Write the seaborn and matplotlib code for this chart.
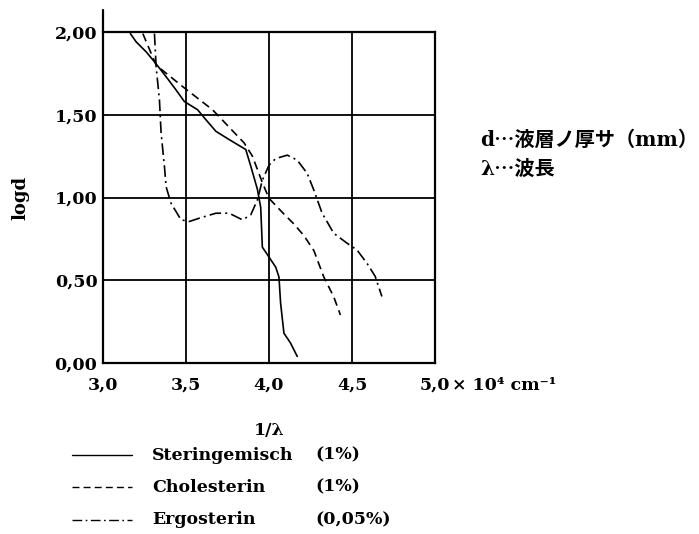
import numpy as np
import pandas as pd
import matplotlib
matplotlib.use("Agg")
import matplotlib.pyplot as plt
import seaborn as sns
from matplotlib.lines import Line2D

# ---- data ----
ster_x = [3.165, 3.20, 3.26, 3.31, 3.38, 3.44, 3.49, 3.57, 3.62, 3.68, 3.76, 3.86,
          3.89, 3.93, 3.95, 3.96, 4.00, 4.04, 4.06, 4.07, 4.09, 4.13, 4.17]
ster_y = [1.99, 1.94, 1.88, 1.82, 1.73, 1.65, 1.58, 1.53, 1.47, 1.40, 1.35, 1.29,
          1.19, 1.05, 0.94, 0.70, 0.64, 0.58, 0.52, 0.36, 0.18, 0.12, 0.04]

chol_x = [3.24, 3.32, 3.48, 3.66, 3.85, 3.90, 3.96, 4.00, 4.09, 4.15, 4.21, 4.27,
          4.33, 4.39, 4.43]
chol_y = [1.99, 1.80, 1.67, 1.53, 1.33, 1.25, 1.09, 0.995, 0.90, 0.84, 0.77, 0.68,
          0.52, 0.40, 0.29]

ergo_x = [3.31, 3.32, 3.34, 3.35, 3.37, 3.38, 3.41, 3.47, 3.52, 3.58, 3.68, 3.76,
          3.84, 3.89, 3.93, 3.96, 4.00, 4.04, 4.11, 4.17, 4.23, 4.27, 4.32, 4.39,
          4.47, 4.53, 4.59, 4.64, 4.66, 4.68]
ergo_y = [1.99, 1.79, 1.59, 1.39, 1.19, 1.065, 0.965, 0.865, 0.855, 0.875, 0.905, 0.905,
          0.865, 0.895, 0.985, 1.105, 1.195, 1.235, 1.256, 1.226, 1.146, 1.045, 0.905, 0.784,
          0.724, 0.683, 0.603, 0.523, 0.462, 0.402]

series_names = ["Steringemisch", "Cholesterin", "Ergosterin"]
series_conc = ["(1%)", "(1%)", "(0,05%)"]
x_ticks = [3.0, 3.5, 4.0, 4.5, 5.0]
x_ticklabels = ["3,0", "3,5", "4,0", "4,5", "5,0"]
y_ticks = [0.0, 0.5, 1.0, 1.5, 2.0]
y_ticklabels = ["0,00", "0,50", "1,00", "1,50", "2,00"]
dash_map = {"Steringemisch": "", "Cholesterin": (5, 3), "Ergosterin": (7, 2.5, 1.2, 2.5)}

df = pd.concat([
    pd.DataFrame({"x": ster_x, "y": ster_y, "series": series_names[0]}),
    pd.DataFrame({"x": chol_x, "y": chol_y, "series": series_names[1]}),
    pd.DataFrame({"x": ergo_x, "y": ergo_y, "series": series_names[2]}),
], ignore_index=True)

sns.set_theme(style="white")
plt.rcParams["font.family"] = ["DejaVu Serif"]
plt.rcParams["text.color"] = "black"
plt.rcParams["axes.labelcolor"] = "black"

FS = 12.5
fig = plt.figure(figsize=(6.99, 5.34), dpi=100)
W, H = 699, 534
ax = fig.add_axes([103 / W, 1 - 363 / H, (435 - 103) / W, (363 - 32) / H])

sns.lineplot(data=df, x="x", y="y", style="series", dashes=dash_map, color="black",
             sort=False, estimator=None, units="series", linewidth=1.2, ax=ax, legend=False)

ax.set_xlim(3.0, 5.0)
ax.set_ylim(0.0, 2.0)
ax.set_xticks(x_ticks)
ax.set_xticklabels(x_ticklabels)
ax.set_yticks(y_ticks)
ax.set_yticklabels(y_ticklabels)
ax.tick_params(length=0, labelsize=FS, colors="black")
ax.tick_params(axis="x", pad=10)
ax.tick_params(axis="y", pad=4)
for lab in ax.get_xticklabels() + ax.get_yticklabels():
    lab.set_fontweight("bold")
ax.grid(True, color="black", linewidth=1.3)
for s in ax.spines.values():
    s.set_color("black")
    s.set_linewidth(1.6)
# left axis extends slightly above the box
ax.plot([3.0, 3.0], [2.0, 2.13], color="black", lw=1.6, clip_on=False)

ax.set_xlabel("1/λ", fontsize=FS, fontweight="bold", labelpad=20, color="black")
ax.set_ylabel("logd", fontsize=FS + 0.5, fontweight="bold", labelpad=18, color="black")

ax.annotate("× 10⁴ cm⁻¹", xy=(1.0, 0.0), xycoords="axes fraction",
            xytext=(12, -16), textcoords="offset points", ha="left", va="center",
            fontsize=FS, fontweight="bold", color="black")

# Japanese annotation
cjk = ["DejaVu Serif", "Noto Sans CJK JP"]
fig.text(480 / W, 1 - 140 / H, "d⋯液層ノ厚サ（mm）", family=cjk, fontsize=14.5,
         fontweight="bold", va="center", ha="left")
fig.text(480 / W, 1 - 169 / H, "λ⋯波長", family=cjk, fontsize=14.5,
         fontweight="bold", va="center", ha="left")

# manual legend below
rows_y = [455, 487, 520]
for name, conc, yy in zip(series_names, series_conc, rows_y):
    d = dash_map[name]
    ln = Line2D([72 / W, 132 / W], [1 - yy / H, 1 - yy / H], transform=fig.transFigure,
                color="black", lw=1.0)
    if d:
        ln.set_dashes(d)
    fig.add_artist(ln)
    fig.text(152 / W, 1 - yy / H, name, fontsize=FS, fontweight="bold", va="center", ha="left")
    fig.text(315 / W, 1 - yy / H, conc, fontsize=FS, fontweight="bold", va="center", ha="left")

fig.savefig("out.png", dpi=100)
